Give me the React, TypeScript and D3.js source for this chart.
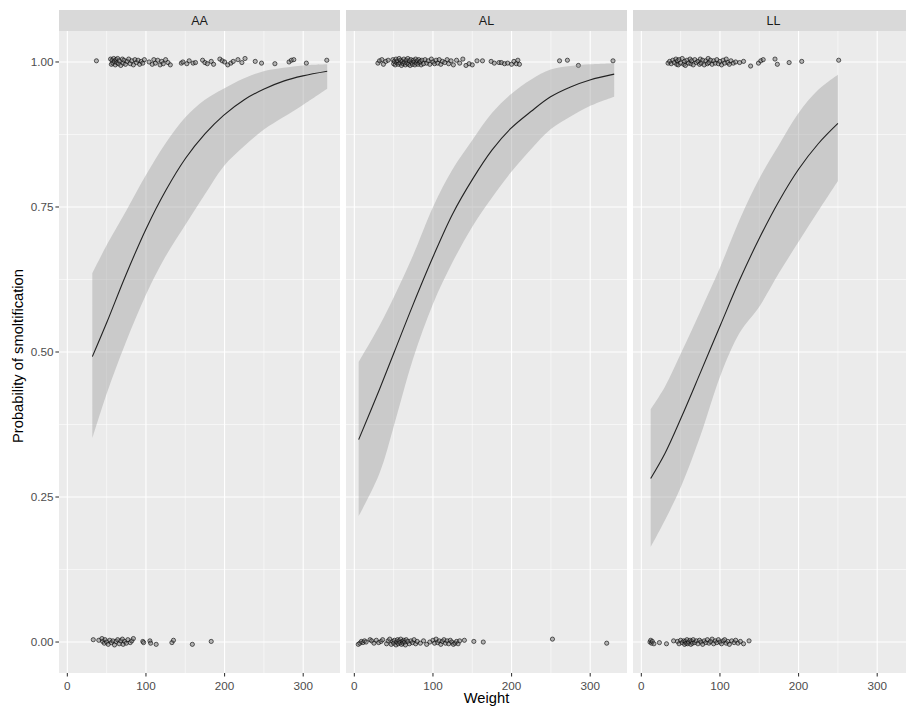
import React from 'react';
import * as d3 from 'd3';

// ---------- data ----------
const panels = ['AA', 'AL', 'LL'];
const xTicks = [0, 100, 200, 300];
const xMinor = [50, 150, 250];
const yTicks = [0, 0.25, 0.5, 0.75, 1];
const yTickLabels = ['0.00', '0.25', '0.50', '0.75', '1.00'];
const yMinor = [0.125, 0.375, 0.625, 0.875];

// fitted curves + confidence ribbons
const aaFitX = [31.8, 50.8, 74.2, 100.4, 125, 150.4, 175, 198.7, 225, 249.6, 275, 299.6, 330.5];
const aaFit = [0.492, 0.553, 0.632, 0.713, 0.778, 0.834, 0.876, 0.908, 0.935, 0.953, 0.967, 0.976, 0.984];
const aaUpper = [0.636, 0.686, 0.742, 0.806, 0.86, 0.905, 0.935, 0.954, 0.972, 0.984, 0.99, 0.994, 0.996];
const aaLower = [0.351, 0.431, 0.516, 0.6, 0.665, 0.72, 0.772, 0.82, 0.855, 0.883, 0.905, 0.926, 0.954];

const alFitX = [5.5, 31.8, 50.8, 74.2, 100.4, 125, 150.4, 175, 198.7, 225, 249.6, 275, 299.6, 330.5];
const alFit = [0.349, 0.435, 0.5, 0.58, 0.665, 0.738, 0.798, 0.848, 0.885, 0.915, 0.94, 0.957, 0.969, 0.979];
const alUpper = [0.483, 0.545, 0.596, 0.665, 0.751, 0.815, 0.866, 0.912, 0.944, 0.97, 0.987, 0.993, 0.996, 0.998];
const alLower = [0.217, 0.29, 0.375, 0.486, 0.584, 0.655, 0.717, 0.766, 0.809, 0.85, 0.884, 0.906, 0.924, 0.94];

const llFitX = [11.9, 30, 50.8, 75, 100.8, 125, 150.4, 175, 200, 225, 250];
const llFit = [0.282, 0.325, 0.387, 0.464, 0.547, 0.624, 0.697, 0.76, 0.815, 0.859, 0.894];
const llUpper = [0.401, 0.44, 0.499, 0.57, 0.648, 0.728, 0.8, 0.857, 0.912, 0.952, 0.978];
const llLower = [0.164, 0.21, 0.269, 0.355, 0.46, 0.533, 0.579, 0.636, 0.69, 0.743, 0.795];

// jittered observations [weight, outcome]
const aaPoints: [number, number][] = [
  [37, 1.002], [55, 1.005], [56, 0.996], [57, 1.003], [58, 0.998], [59, 1.006], [60, 1.001], [61, 0.995],
  [62, 1.004], [63, 0.999], [64, 1.006], [65, 0.997], [66, 1.002], [68, 0.994], [70, 1.005], [71, 0.998],
  [72, 1.003], [74, 0.996], [76, 1.001], [78, 1.005], [80, 0.997], [82, 1.002], [84, 0.995], [86, 1.004],
  [88, 0.999], [90, 1.003], [92, 0.996], [94, 1.001], [96, 0.998], [98, 1.004], [104, 1.0], [108, 0.996],
  [110, 1.004], [112, 0.998], [115, 1.003], [118, 0.995], [120, 1.001], [122, 0.997], [125, 1.004],
  [128, 0.999], [131, 0.995], [145, 0.998], [147, 1.0], [152, 0.997], [155, 1.002], [160, 0.998],
  [163, 0.999], [172, 1.003], [175, 0.999], [178, 0.997], [183, 1.001], [186, 0.996], [194, 1.005],
  [197, 1.002], [200, 1.0], [204, 0.995], [208, 0.998], [211, 1.001], [217, 1.004], [222, 0.999],
  [226, 1.006], [239, 1.001], [247, 0.998], [264, 0.997], [282, 1.0], [285, 1.003], [288, 1.004],
  [304, 0.998], [330, 1.003],
  [33, 0.004], [40, 0.003], [44, 0.006], [45, 0.001], [47, -0.002], [48, 0.004], [50, 0.0], [52, -0.004],
  [54, 0.003], [56, -0.001], [58, 0.002], [60, -0.005], [62, 0.001], [64, 0.004], [66, -0.003],
  [68, 0.002], [70, 0.005], [71, -0.004], [73, 0.001], [75, -0.002], [77, 0.004], [80, -0.001],
  [82, 0.002], [84, 0.006], [96, 0.001], [97, -0.001], [105, 0.002], [106, -0.002], [113, -0.004],
  [133, -0.001], [135, 0.003], [159, -0.004], [183, 0.001],
];

const alPoints: [number, number][] = [
  [30, 0.998], [32, 1.002], [35, 1.004], [37, 0.996], [40, 1.001], [43, 1.003],
  [49, 1.004], [50, 0.997], [51, 1.001], [52, 0.995], [53, 1.005], [54, 0.999], [55, 1.002], [56, 0.996],
  [57, 1.006], [58, 0.998], [59, 1.003], [60, 0.994], [61, 1.001], [62, 0.997], [63, 1.005], [64, 0.999],
  [65, 0.995], [66, 1.003], [67, 0.998], [68, 1.006], [69, 0.996], [70, 1.002], [71, 0.994], [72, 1.004],
  [73, 0.999], [74, 0.996], [75, 1.003], [76, 1.0], [77, 0.995], [78, 1.005], [79, 0.998], [80, 1.002],
  [81, 0.996], [82, 1.004], [83, 0.999], [84, 1.001], [85, 0.995], [86, 1.003], [88, 0.997], [90, 1.004],
  [92, 0.998], [94, 1.002], [96, 0.996], [98, 1.005], [100, 1.0], [102, 0.997], [104, 1.003],
  [106, 0.998], [108, 1.004], [110, 0.996], [112, 1.001], [115, 0.999], [118, 1.004], [120, 0.997],
  [123, 1.002], [126, 0.995], [130, 1.003], [134, 0.998], [138, 1.005], [142, 0.994], [146, 0.997],
  [150, 0.995], [156, 1.002], [163, 1.002], [174, 1.001], [178, 0.998], [184, 0.999], [187, 0.999],
  [191, 0.997], [195, 0.998], [200, 0.996], [203, 1.001], [206, 0.997], [208, 1.003], [210, 0.996],
  [261, 1.002], [271, 1.003], [285, 0.994], [329, 1.002],
  [5, -0.004], [7, -0.002], [9, 0.001], [11, -0.001], [13, 0.002], [15, 0.0], [20, 0.004], [22, 0.002],
  [25, -0.002], [28, 0.003], [31, -0.001], [34, 0.001], [36, 0.004], [41, -0.003], [43, 0.002],
  [45, 0.005], [47, -0.004], [49, 0.001], [50, -0.002], [51, 0.003], [53, -0.005], [54, 0.0],
  [55, 0.004], [56, -0.003], [57, 0.002], [58, -0.001], [59, 0.005], [60, -0.004], [61, 0.001],
  [62, -0.002], [63, 0.003], [64, 0.0], [65, -0.005], [66, 0.004], [68, 0.001], [70, -0.003],
  [72, 0.002], [74, -0.001], [76, 0.004], [78, -0.003], [80, 0.001], [84, -0.002], [88, 0.002],
  [92, -0.004], [96, 0.0], [100, 0.003], [102, -0.002], [104, 0.005], [106, -0.001], [108, 0.002],
  [110, -0.004], [112, 0.001], [114, 0.004], [116, -0.002], [118, 0.002], [120, -0.003], [122, 0.003],
  [124, 0.0], [126, -0.004], [128, -0.002], [130, 0.001], [132, -0.003], [134, 0.002], [140, 0.003],
  [152, 0.001], [164, 0.0], [252, 0.005], [321, -0.002],
];

const llPoints: [number, number][] = [
  [34, 0.998], [36, 1.001], [38, 0.997], [40, 1.003], [42, 0.999], [44, 1.005], [45, 0.996], [46, 1.002],
  [47, 0.995], [48, 1.004], [50, 0.998], [52, 1.006], [54, 0.996], [55, 1.001], [56, 0.994], [58, 1.003],
  [60, 0.998], [62, 1.005], [63, 0.997], [64, 1.002], [66, 0.995], [68, 1.004], [70, 0.999], [72, 1.001],
  [74, 0.996], [75, 1.005], [76, 0.998], [78, 1.003], [80, 0.995], [82, 1.002], [84, 0.997], [85, 1.006],
  [86, 0.999], [88, 1.003], [90, 0.996], [92, 1.002], [94, 0.998], [96, 1.004], [98, 0.997], [100, 1.001],
  [102, 0.995], [104, 1.003], [106, 0.998], [108, 1.005], [110, 0.999], [112, 0.996], [114, 1.002],
  [117, 0.998], [120, 1.0], [125, 0.999], [130, 1.001], [139, 0.993], [149, 0.998], [152, 1.002],
  [155, 1.004], [170, 1.005], [173, 0.996], [188, 0.999], [204, 1.001], [251, 1.003],
  [11, 0.0], [12, 0.003], [13, -0.002], [14, 0.001], [16, -0.003], [23, -0.001], [32, -0.003],
  [41, 0.002], [46, 0.001], [48, -0.003], [50, 0.003], [52, -0.001], [54, 0.002], [55, -0.004],
  [56, 0.001], [57, -0.002], [58, 0.004], [59, -0.003], [60, 0.0], [62, 0.003], [63, -0.004],
  [64, 0.001], [65, -0.002], [66, 0.004], [68, -0.001], [70, 0.002], [72, -0.003], [74, 0.003],
  [76, 0.0], [78, -0.004], [80, 0.002], [82, -0.001], [84, 0.004], [86, -0.002], [88, 0.001],
  [90, 0.005], [92, -0.003], [94, 0.002], [96, -0.001], [98, 0.004], [100, 0.0], [102, -0.003],
  [104, 0.002], [106, 0.004], [108, -0.002], [110, 0.001], [112, -0.004], [115, 0.002], [118, -0.001],
  [120, 0.003], [123, -0.002], [126, 0.001], [130, -0.003], [137, 0.002],
];

const fits = [
  { x: aaFitX, fit: aaFit, lo: aaLower, hi: aaUpper, pts: aaPoints },
  { x: alFitX, fit: alFit, lo: alLower, hi: alUpper, pts: alPoints },
  { x: llFitX, fit: llFit, lo: llLower, hi: llUpper, pts: llPoints },
];

// ---------- layout ----------
const W = 906;
const H = 711;
const panelLeft = [59, 346, 633];
const panelW = 281;
const panelTop = 31;
const panelBottom = 673;
const stripTop = 10;
const FONT = '"Liberation Sans", Arial, Helvetica, sans-serif';

const yScale = d3.scaleLinear().domain([-0.0534, 1.0534]).range([panelBottom, panelTop]);

type Row = { x: number; fit: number; lo: number; hi: number };

export default function App() {
  return (
    <svg
      width={W}
      height={H}
      viewBox={`0 0 ${W} ${H}`}
      style={{ position: 'absolute', left: 0, top: 0, background: '#fff' }}
      fontFamily={FONT}
    >
      <rect x={0} y={0} width={W} height={H} fill="#ffffff" />
      <defs>
        {panels.map((p, i) => (
          <clipPath id={`clip-${p}`} key={p}>
            <rect x={panelLeft[i]} y={panelTop} width={panelW} height={panelBottom - panelTop} />
          </clipPath>
        ))}
      </defs>
      {panels.map((p, i) => {
        const x0 = panelLeft[i];
        const xScale = d3.scaleLinear().domain([-10.6, 346.8]).range([x0, x0 + panelW]);
        const f = fits[i];
        const rows: Row[] = f.x.map((xv, k) => ({ x: xv, fit: f.fit[k], lo: f.lo[k], hi: f.hi[k] }));
        const area = d3
          .area<Row>()
          .x((d) => xScale(d.x))
          .y0((d) => yScale(d.lo))
          .y1((d) => yScale(d.hi))
          .curve(d3.curveCatmullRom.alpha(0.5));
        const line = d3
          .line<Row>()
          .x((d) => xScale(d.x))
          .y((d) => yScale(d.fit))
          .curve(d3.curveCatmullRom.alpha(0.5));
        return (
          <g key={p}>
            {/* strip */}
            <rect x={x0} y={stripTop} width={panelW} height={panelTop - stripTop} fill="#D9D9D9" />
            <text x={x0 + panelW / 2} y={25.3} textAnchor="middle" fontSize={12.5} fill="#1A1A1A">
              {p}
            </text>
            {/* panel */}
            <rect x={x0} y={panelTop} width={panelW} height={panelBottom - panelTop} fill="#EBEBEB" />
            <g clipPath={`url(#clip-${p})`}>
              {xMinor.map((t) => (
                <line key={'xm' + t} x1={xScale(t)} x2={xScale(t)} y1={panelTop} y2={panelBottom} stroke="#fff" strokeWidth={0.55} />
              ))}
              {yMinor.map((t) => (
                <line key={'ym' + t} x1={x0} x2={x0 + panelW} y1={yScale(t)} y2={yScale(t)} stroke="#fff" strokeWidth={0.55} />
              ))}
              {xTicks.map((t) => (
                <line key={'xM' + t} x1={xScale(t)} x2={xScale(t)} y1={panelTop} y2={panelBottom} stroke="#fff" strokeWidth={1.1} />
              ))}
              {yTicks.map((t) => (
                <line key={'yM' + t} x1={x0} x2={x0 + panelW} y1={yScale(t)} y2={yScale(t)} stroke="#fff" strokeWidth={1.1} />
              ))}
              {f.pts.map((d, k) => (
                <circle
                  key={k}
                  cx={xScale(d[0])}
                  cy={yScale(d[1])}
                  r={2.1}
                  fill="#7a7a7a"
                  fillOpacity={0.5}
                  stroke="#000"
                  strokeOpacity={0.85}
                  strokeWidth={0.7}
                />
              ))}
              <path d={area(rows) || ''} fill="#999999" fillOpacity={0.4} />
              <path d={line(rows) || ''} fill="none" stroke="#222" strokeWidth={1.1} />
            </g>
            {/* x axis ticks & labels */}
            {xTicks.map((t) => (
              <g key={'xt' + t}>
                <line x1={xScale(t)} x2={xScale(t)} y1={panelBottom} y2={panelBottom + 3.6} stroke="#333" strokeWidth={1.05} />
                <text x={xScale(t)} y={689.5} textAnchor="middle" fontSize={11.7} fill="#4D4D4D">
                  {t}
                </text>
              </g>
            ))}
          </g>
        );
      })}
      {/* y axis on first panel */}
      {yTicks.map((t, k) => (
        <g key={'yt' + t}>
          <line x1={panelLeft[0] - 3.6} x2={panelLeft[0]} y1={yScale(t)} y2={yScale(t)} stroke="#333" strokeWidth={1.05} />
          <text x={panelLeft[0] - 5.6} y={yScale(t) + 4.2} textAnchor="end" fontSize={11.7} fill="#4D4D4D">
            {yTickLabels[k]}
          </text>
        </g>
      ))}
      <text x={486.5} y={703} textAnchor="middle" fontSize={14.7} fill="#000">
        Weight
      </text>
      <text transform={`translate(22.5, 356) rotate(-90)`} textAnchor="middle" fontSize={14.7} fill="#000">
        Probability of smoltification
      </text>
    </svg>
  );
}
